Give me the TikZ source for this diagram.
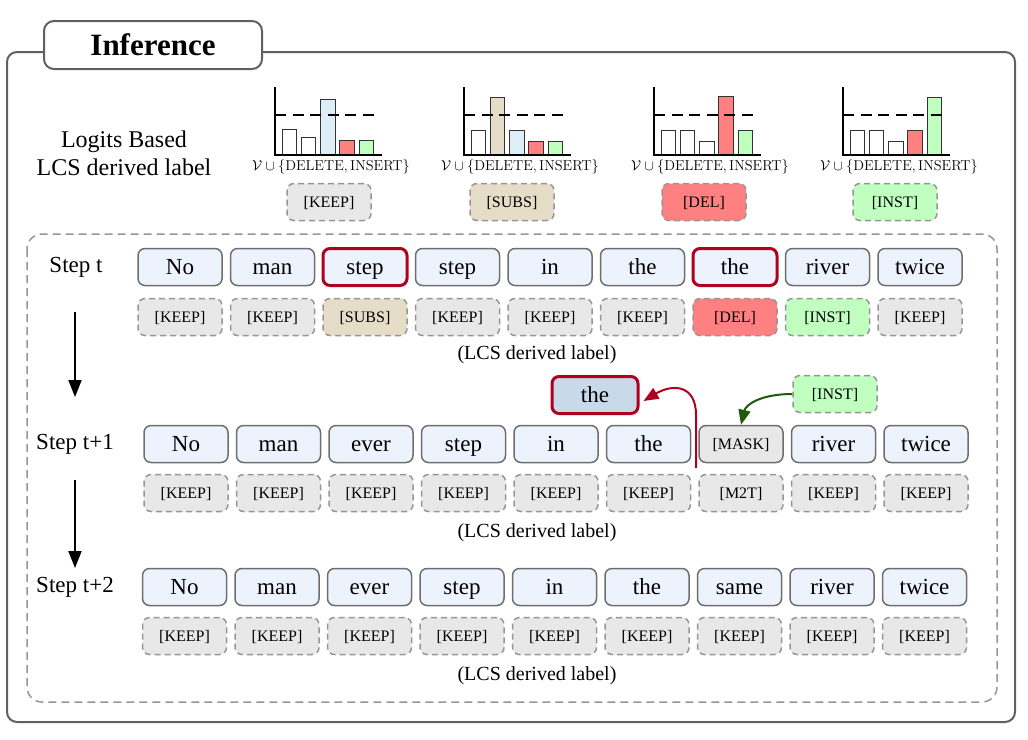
\documentclass[tikz,border=0pt]{standalone}
\usepackage[no-math]{fontspec}
\setmainfont{Liberation Serif}
\usetikzlibrary{arrows.meta}
\definecolor{tokfill}{RGB}{237,243,253}
\definecolor{tokgray}{RGB}{110,110,110}
\definecolor{darkred}{RGB}{176,0,32}
\definecolor{labfill}{RGB}{232,232,232}
\definecolor{labgray}{RGB}{150,150,150}
\definecolor{subsfill}{RGB}{230,221,201}
\definecolor{delfill}{RGB}{255,128,128}
\definecolor{instfill}{RGB}{192,255,192}
\definecolor{barblue}{RGB}{221,238,248}
\definecolor{floatfill}{RGB}{200,218,234}
\definecolor{greenarr}{RGB}{30,90,10}
\definecolor{outergray}{RGB}{96,96,96}
\newcommand{\tokfont}{\fontsize{23}{27}\selectfont}
\newcommand{\labfont}{\fontsize{16}{19}\selectfont}
\newcommand{\descfont}{\fontsize{20}{24}\selectfont}
\newcommand{\histfont}{\fontsize{15.3}{18}\selectfont}
\begin{document}
\begin{tikzpicture}[x=1pt,y=-1pt,
  tok/.style={draw=tokgray, line width=1.5pt, rounded corners=7pt, fill=tokfill,
    minimum width=84pt, minimum height=37pt, inner sep=0pt, font=\tokfont,
    text height=18pt, text depth=4pt},
  redtok/.style={tok, draw=darkred, line width=3pt},
  masktok/.style={tok, fill=labfill, font=\labfont, text height=13pt, text depth=3pt},
  lab/.style={draw=labgray, dash pattern=on 6pt off 4pt, line width=1.5pt, rounded corners=7pt,
    fill=labfill, minimum width=84pt, minimum height=37pt, inner sep=0pt, font=\labfont,
    text height=13pt, text depth=3pt},
  labsubs/.style={lab, fill=subsfill},
  labdel/.style={lab, fill=delfill},
  labinst/.style={lab, fill=instfill},
  steplabel/.style={font=\tokfont, inner sep=0pt},
  desc/.style={font=\descfont, inner sep=0pt},
  bar/.style={draw=black!80, line width=1pt},
  flowarrow/.style={line width=2pt, -{Triangle[length=17pt,width=13pt]}},
]
\useasboundingbox (0,0) rectangle (1028,739);
% outer frame
\draw[outergray, line width=2pt, rounded corners=10pt] (7,52) rectangle (1015,722);
\node[draw=outergray, line width=2pt, fill=white, rounded corners=10pt,
  minimum width=218pt, minimum height=48pt, inner sep=0pt,
  font=\fontsize{31}{35}\selectfont\bfseries] (title) at (153,45) {Inference};
% left caption
\node[font=\fontsize{24}{28}\selectfont, align=center, inner sep=0pt] (caption) at (124,153)
  {Logits Based\\LCS derived label};
% histograms
\foreach \ax/\ha/\hb/\hc/\hd/\he/\cb/\cc [count=\k] in
  {275/26/18/56/15/15/white/barblue,
   464/25/58/25/14/14/subsfill/barblue,
   654/25/25/14/59/25/white/white,
   843/25/25/14/25/58/white/white}{
  \begin{scope}[xshift=\ax pt]
    \draw[bar, fill=white]   (7,155)    rectangle (21.5,155-\ha);
    \draw[bar, fill=\cb]     (26.3,155) rectangle (40.8,155-\hb);
    \draw[bar, fill=\cc]     (45.6,155) rectangle (60.1,155-\hc);
    \draw[bar, fill=delfill] (64.9,155) rectangle (79.4,155-\hd);
    \draw[bar, fill=instfill](84.2,155) rectangle (98.7,155-\he);
    \draw[line width=1.6pt, dash pattern=on 11pt off 6.5pt] (0,115) -- (105,115);
    \draw[line width=1.5pt] (0,87) -- (0,155) -- (107,155);
    \node[font=\histfont, inner sep=0pt] (htext\k) at (56,167)
      {$\mathcal{V}\cup\{\mathrm{DELETE},\mathrm{INSERT}\}$};
  \end{scope}
}
\node[lab] (hl1) at (329,202) {[KEEP]};
\node[labsubs] (hl2) at (512,202) {[SUBS]};
\node[labdel] (hl3) at (704,202) {[DEL]};
\node[labinst] (hl4) at (895,202) {[INST]};
% inner dashed frame
\draw[labgray, line width=1.5pt, dash pattern=on 8pt off 5pt, rounded corners=15pt]
  (27,234) rectangle (997,702);
% step labels
\node[steplabel] (s0) at (76,267) {Step t};
\node[steplabel] (s1) at (75,444) {Step t+1};
\node[steplabel] (s2) at (75,587) {Step t+2};
% row 1
\foreach \w/\s [count=\i from 0] in {No/tok,man/tok,step/redtok,step/tok,in/tok,the/tok,the/redtok,river/tok,twice/tok}
  \node[\s] (a\i) at ({180+92.5*\i},267) {\w};
\foreach \w/\s [count=\i from 0] in {KEEP/lab,KEEP/lab,SUBS/labsubs,KEEP/lab,KEEP/lab,KEEP/lab,DEL/labdel,INST/labinst,KEEP/lab}
  \node[\s] (la\i) at ({180+92.5*\i},317) {[\w]};
\node[desc] (d0) at (537,355) {(LCS derived label)};
% row 2
\foreach \w/\s [count=\i from 0] in {No/tok,man/tok,ever/tok,step/tok,in/tok,the/tok,{[MASK]}/masktok,river/tok,twice/tok}
  \node[\s] (b\i) at ({186+92.5*\i},444) {\w};
\foreach \w [count=\i from 0] in {KEEP,KEEP,KEEP,KEEP,KEEP,KEEP,M2T,KEEP,KEEP}
  \node[lab] (lb\i) at ({186+92.5*\i},493) {[\w]};
\node[desc] (d1) at (537,533) {(LCS derived label)};
% row 3
\foreach \w [count=\i from 0] in {No,man,ever,step,in,the,same,river,twice}
  \node[tok] (c\i) at ({184.5+92.5*\i},587) {\w};
\foreach \w [count=\i from 0] in {KEEP,KEEP,KEEP,KEEP,KEEP,KEEP,KEEP,KEEP,KEEP}
  \node[lab] (lc\i) at ({184.5+92.5*\i},636) {[\w]};
\node[desc] (d2) at (537,676) {(LCS derived label)};
% floating nodes
\node[redtok, fill=floatfill, minimum width=86pt] (fthe) at (595,395) {the};
\node[labinst] (finst) at (835,394) {[INST]};
% step arrows
\coordinate (ar1s) at (75,312);
\coordinate (ar1e) at (75,397);
\coordinate (ar2s) at (75,480);
\coordinate (ar2e) at (75,568);
\draw[flowarrow] (ar1s) -- (ar1e);
\draw[flowarrow] (ar2s) -- (ar2e);
% red and green arrows
\coordinate (rs) at (696,468);
\draw[darkred, line width=2pt, -{Triangle[length=15pt,width=12pt]}]
  (rs) -- (696,415) .. controls (696,384) and (672,384) .. ([xshift=4pt,yshift=-6pt]fthe.east);
\draw[greenarr, line width=2pt, -{Triangle[length=15pt,width=12pt]}]
  (finst.west) .. controls (762,394) and (746,404) .. (b6.north);
\end{tikzpicture}
\end{document}
